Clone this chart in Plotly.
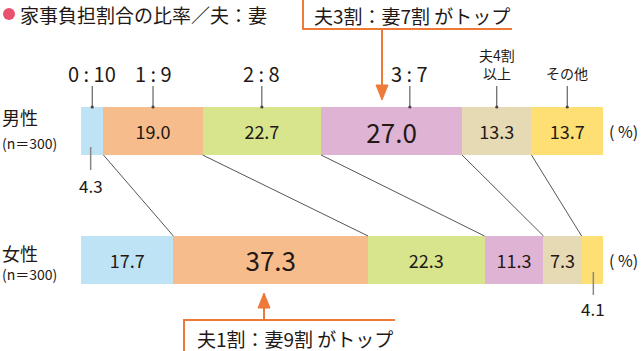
import plotly.graph_objects as go

# ---- data ----
categories = ["0：10", "1：9", "2：8", "3：7", "夫4割以上", "その他"]
top_labels = ["0 : 10", "1 : 9", "2 : 8", "3 : 7", "夫4割<br>以上", "その他"]
groups = ["男性", "女性"]
group_sub = ["(n＝300)", "(n＝300)"]
male = [4.3, 19.0, 22.7, 27.0, 13.3, 13.7]
female = [17.7, 37.3, 22.3, 11.3, 7.3, 4.1]
colors = ["#BEE3F5", "#F6BC8B", "#D9E58C", "#DFB3D3", "#E6DAB5", "#FDDF74"]
title = "家事負担割合の比率／夫：妻"
callout_top = "夫3割：妻7割 がトップ"
callout_bottom = "夫1割：妻9割 がトップ"

W, H = 641, 351
X0, X1 = 81, 603          # pixel span of 0..100 %
SCALE = (X1 - X0) / 100.0
YC = [131, 259.5]          # pixel centers of bars
ROW = YC[1] - YC[0]

def X(px):
    return (px - X0) / SCALE

def Y(py):
    return (py - YC[0]) / ROW

FONT = "Noto Sans CJK JP, Noto Sans, sans-serif"
TXT = "#231815"
ORANGE = "#EE7A3A"

fig = go.Figure()

big = {27.0, 37.3}
for i, cat in enumerate(categories):
    vals = [male[i], female[i]]
    texts = []
    sizes = []
    for v in vals:
        if v < 5:
            texts.append("")
        else:
            texts.append(f"{v:.1f}")
        sizes.append(26 if v in big else 18)
    fig.add_trace(go.Bar(
        y=[0, 1], x=vals, orientation="h", name=cat,
        marker=dict(color=colors[i], line=dict(width=0)),
        width=48 / ROW,
        text=texts, textposition="inside", insidetextanchor="middle",
        textfont=dict(family=FONT, size=sizes, color=TXT),
        hoverinfo="skip", showlegend=False,
    ))

shapes = []
ann = []

# connecting lines between the two bars
cm, cf = 0, 0
for i in range(len(male) - 1):
    cm += male[i]
    cf += female[i]
    shapes.append(dict(type="line", xref="x", yref="y", x0=cm, y0=Y(155), x1=cf, y1=Y(236),
                       line=dict(color="#555555", width=1)))

# top category labels with ticks
cm = 0
for i, v in enumerate(male):
    cx = cm + v / 2
    if i == 3:
        cx += 3.5
    cm += v
    shapes.append(dict(type="line", xref="x", yref="y", x0=cx, x1=cx, y0=Y(86), y1=Y(107),
                       line=dict(color="#444444", width=1)))
    shapes.append(dict(type="circle", xref="x", yref="y", x0=X(X0 + cx * SCALE - 1.6), x1=X(X0 + cx * SCALE + 1.6),
                       y0=Y(105.4), y1=Y(108.6), fillcolor="#444444", line=dict(width=0)))
    if "<br>" in top_labels[i]:
        ann.append(dict(x=cx, y=Y(64), text=top_labels[i], showarrow=False, xanchor="center", yanchor="middle",
                        font=dict(family=FONT, size=14, color=TXT)))
    elif i == 5:
        ann.append(dict(x=cx, y=Y(73), text=top_labels[i], showarrow=False, xanchor="center", yanchor="middle",
                        font=dict(family=FONT, size=14, color=TXT)))
    else:
        ann.append(dict(x=cx, y=Y(73), text=top_labels[i], showarrow=False, xanchor="center", yanchor="middle",
                        font=dict(family=FONT, size=20, color=TXT)))

# small outside values
lx = male[0] / 2 - 0.3
shapes.append(dict(type="line", xref="x", yref="y", x0=lx, x1=lx, y0=Y(147), y1=Y(170),
                   line=dict(color="#888888", width=1.5)))
ann.append(dict(x=lx, y=Y(185), text=f"{male[0]:.1f}", showarrow=False, xanchor="center", yanchor="middle",
                font=dict(family=FONT, size=17, color=TXT)))
fx = 100 - female[-1] / 2 + 0.2
shapes.append(dict(type="line", xref="x", yref="y", x0=fx, x1=fx, y0=Y(272), y1=Y(295),
                   line=dict(color="#888888", width=1.5)))
ann.append(dict(x=fx, y=Y(308), text=f"{female[-1]:.1f}", showarrow=False, xanchor="center", yanchor="middle",
                font=dict(family=FONT, size=17, color=TXT)))

# (%) markers
for yc in YC:
    ann.append(dict(x=X(623), y=Y(yc), text="( %)", showarrow=False, xanchor="center", yanchor="middle",
                    font=dict(family=FONT, size=16, color=TXT)))

# group labels
for g, sub, yc, dy in zip(groups, group_sub, YC, [-14, -7]):
    ann.append(dict(x=X(0), y=Y(yc + dy), text=g, showarrow=False, xanchor="left", yanchor="middle",
                    font=dict(family=FONT, size=18, color=TXT)))
    ann.append(dict(x=X(0), y=Y(yc + dy + 26 - (0 if dy == -14 else 5)), text=sub, showarrow=False,
                    xanchor="left", yanchor="middle", font=dict(family=FONT, size=14, color=TXT)))

# title
shapes.append(dict(type="circle", xref="x", yref="y", x0=X(3), x1=X(15), y0=Y(8), y1=Y(20),
                   fillcolor="#E8526E", line=dict(width=0)))
ann.append(dict(x=X(18), y=Y(14), text=title, showarrow=False, xanchor="left", yanchor="middle",
                font=dict(family=FONT, size=19, color=TXT)))

# top callout
shapes.append(dict(type="path", xref="x", yref="y",
                   path=f"M {X(303)} {Y(-2)} L {X(303)} {Y(29)} L {X(512)} {Y(29)}",
                   line=dict(color=ORANGE, width=2)))
shapes.append(dict(type="line", xref="x", yref="y", x0=X(382), x1=X(382), y0=Y(29), y1=Y(88),
                   line=dict(color=ORANGE, width=2)))
shapes.append(dict(type="path", xref="x", yref="y",
                   path=f"M {X(376)} {Y(85)} L {X(388)} {Y(85)} L {X(382)} {Y(100)} Z",
                   fillcolor=ORANGE, line=dict(color=ORANGE, width=1)))
ann.append(dict(x=X(312), y=Y(15), text=callout_top, showarrow=False, xanchor="left", yanchor="middle",
                font=dict(family=FONT, size=19, color=TXT)))

# bottom callout
shapes.append(dict(type="path", xref="x", yref="y",
                   path=f"M {X(184)} {Y(353)} L {X(184)} {Y(320)} L {X(395)} {Y(320)}",
                   line=dict(color=ORANGE, width=2)))
shapes.append(dict(type="line", xref="x", yref="y", x0=X(264), x1=X(264), y0=Y(305), y1=Y(320),
                   line=dict(color=ORANGE, width=2)))
shapes.append(dict(type="path", xref="x", yref="y",
                   path=f"M {X(258)} {Y(308)} L {X(270)} {Y(308)} L {X(264)} {Y(293)} Z",
                   fillcolor=ORANGE, line=dict(color=ORANGE, width=1)))
ann.append(dict(x=X(195), y=Y(338), text=callout_bottom, showarrow=False, xanchor="left", yanchor="middle",
                font=dict(family=FONT, size=19, color=TXT)))

fig.update_layout(
    width=W, height=H,
    margin=dict(l=0, r=0, t=0, b=0),
    paper_bgcolor="white", plot_bgcolor="white",
    barmode="stack",
    xaxis=dict(range=[X(0), X(W)], visible=False, fixedrange=True),
    yaxis=dict(range=[Y(H), Y(0)], visible=False, fixedrange=True),
    shapes=shapes, annotations=ann,
    showlegend=False,
)

fig.write_html("out.html")
